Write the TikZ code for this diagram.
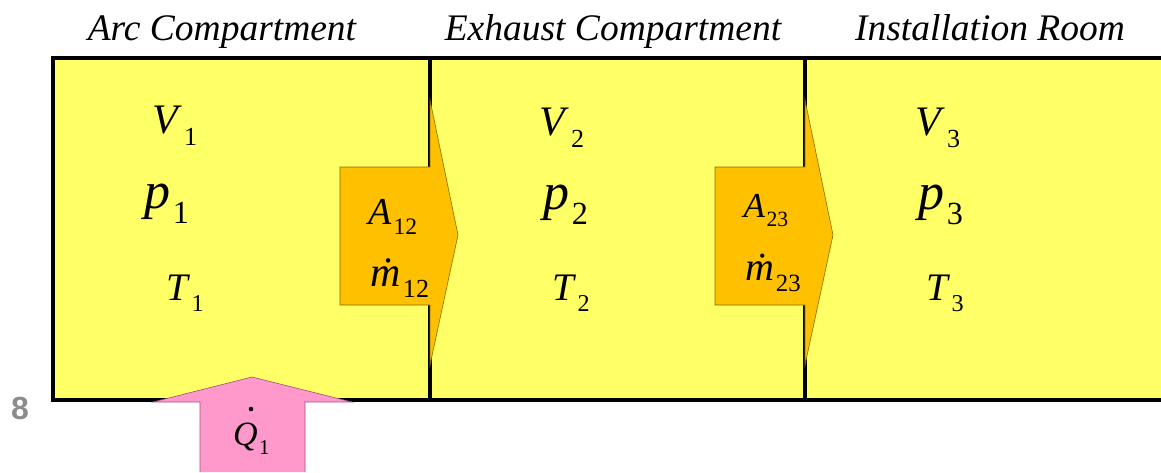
\documentclass[tikz,border=0pt]{standalone}
\usepackage{fontspec}
\setmainfont{Liberation Serif}
\newfontfamily\pagenofont{Liberation Sans}
\usepackage{graphicx}

\definecolor{roomfill}{HTML}{FFFF66}
\definecolor{flowfill}{HTML}{FFC000}
\definecolor{flowline}{HTML}{8A6A00}
\definecolor{heatfill}{HTML}{FF99CC}
\definecolor{heatline}{HTML}{A05080}
\definecolor{pagegray}{HTML}{8C8C8C}

\newcommand*{\roomtop}{58}
\newcommand*{\roombot}{400}
\newcommand*{\wallA}{430}
\newcommand*{\wallB}{805}

% italic symbol with upright subscript
\newcommand*{\sym}[2]{\textit{#1}\kern0.04em\raisebox{-0.28em}{\scalebox{0.62}{#2}}}

\begin{document}
\begin{tikzpicture}
[
	x=1pt,
	y=-1pt,
	every node/.style={inner sep=0pt},
	room/.style={fill=roomfill,draw=none},
	wall/.style={line width=3.2pt,black},
	flow/.style={fill=flowfill,draw=flowline,line width=0.6pt,line join=miter},
	heat/.style={fill=heatfill,draw=heatline,line width=0.6pt},
	title/.style={font=\fontsize{37.5}{42}\selectfont\itshape,anchor=base},
	vol/.style={font=\fontsize{42}{46}\selectfont},
	pres/.style={font=\fontsize{52}{56}\selectfont},
	temp/.style={font=\fontsize{39}{42}\selectfont},
	orif/.style={font=\fontsize{38}{42}\selectfont,anchor=base}
]

	\useasboundingbox (0,0) rectangle (1161,472);

	% rooms
	\fill[room] (53,\roomtop) rectangle (1161,\roombot);
	\draw[wall] (1161,\roomtop) -- (53,\roomtop) -- (53,\roombot) -- (1161,\roombot);
	\draw[wall] (\wallA,\roomtop) -- (\wallA,\roombot);
	\draw[wall] (\wallB,\roomtop) -- (\wallB,\roombot);

	% flow arrows through the walls
	\draw[flow] (340,167) -- (\wallA,167) -- (\wallA,100) -- (458,235)
		-- (\wallA,365) -- (\wallA,305) -- (340,305) -- cycle;
	\draw[flow] (715,167) -- (\wallB,167) -- (\wallB,100) -- (833,235)
		-- (\wallB,365) -- (\wallB,305) -- (715,305) -- cycle;

	% heat input
	\draw[heat] (200,472) -- (200,402) -- (153,402) -- (252,377)
		-- (352,402) -- (305,402) -- (305,472);

	\node[title] (arc) at (222,40) {Arc Compartment};
	\node[title] (exhaust) at (613,40) {Exhaust Compartment};
	\node[title] (install) at (990,40) {Installation Room};

	\node[vol] (v1) at (175,126) {\sym{V}{1}};
	\node[pres] (p1) at (167,204) {\sym{p}{1}};
	\node[temp] (t1) at (185,293) {\sym{T}{1}};

	\node[vol] (v2) at (562,128) {\sym{V}{2}};
	\node[pres] (p2) at (566,205) {\sym{p}{2}};
	\node[temp] (t2) at (571,293) {\sym{T}{2}};

	\node[vol] (v3) at (938,128) {\sym{V}{3}};
	\node[pres] (p3) at (941,205) {\sym{p}{3}};
	\node[temp] (t3) at (945,293) {\sym{T}{3}};

	\node[orif] (a12) at (393,224) {\sym{A}{12}};
	\node[orif,font=\fontsize{42}{46}\selectfont] (m12) at (400,286) {\sym{ṁ}{12}};
	\node[orif,font=\fontsize{35}{39}\selectfont] (a23) at (766,217) {\sym{A}{23}};
	\node[orif,font=\fontsize{40}{44}\selectfont] (m23) at (773,280) {\sym{ṁ}{23}};

	\node[orif,font=\fontsize{34}{38}\selectfont,anchor=base west] (q1) at (233,445) {\sym{Q}{1}};
	\fill (251,409) circle (2.3pt); % dot of Q

	\node[font=\pagenofont\fontsize{32}{34}\selectfont\bfseries,text=pagegray] (pageno) at (20,408) {8};

\end{tikzpicture}
\end{document}
